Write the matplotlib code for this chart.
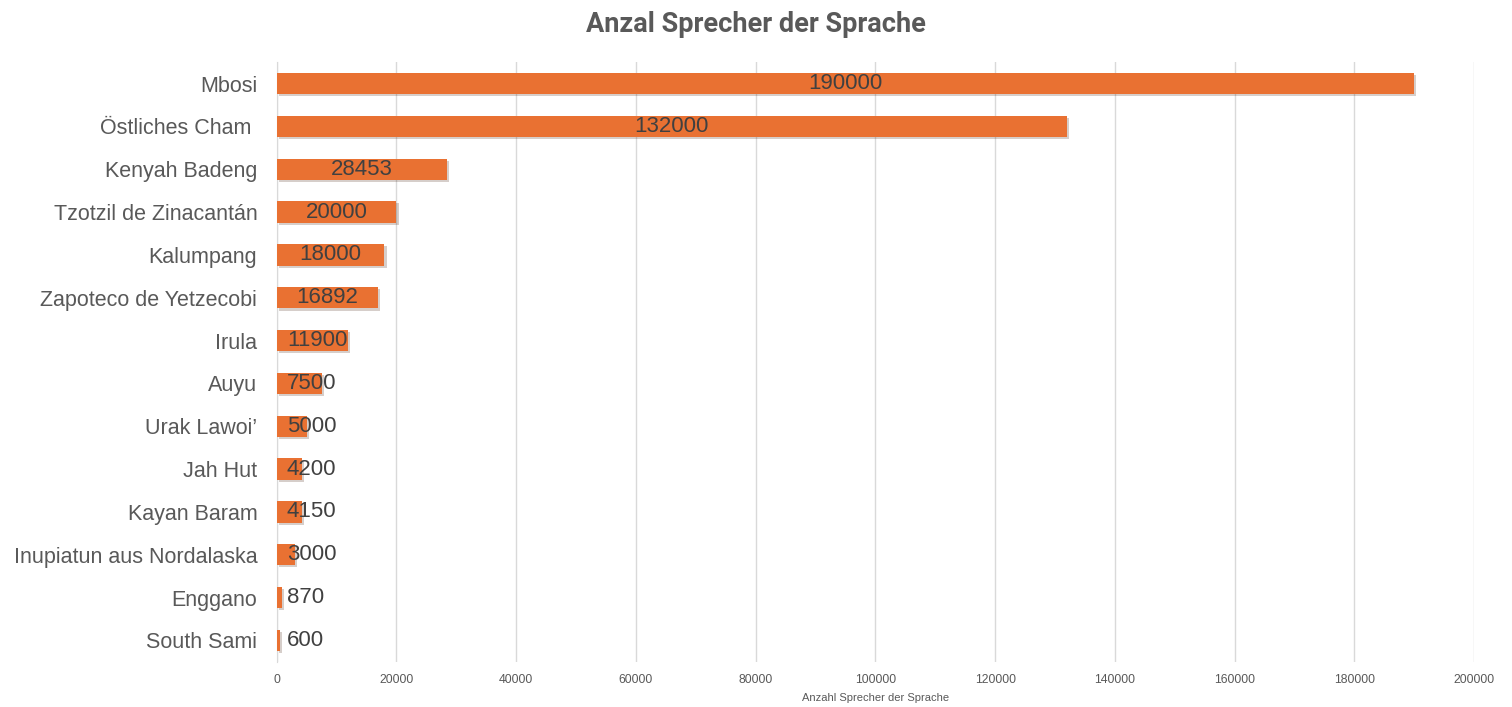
import matplotlib
matplotlib.use("Agg")
import matplotlib.pyplot as plt
import matplotlib.patheffects as pe

languages = [
    "Mbosi", "Östliches Cham ", "Kenyah Badeng", "Tzotzil de Zinacantán",
    "Kalumpang", "Zapoteco de Yetzecobi", "Irula", "Auyu", "Urak Lawoi’",
    "Jah Hut", "Kayan Baram", "Inupiatun aus Nordalaska", "Enggano", "South Sami",
]
speakers = [190000, 132000, 28453, 20000, 18000, 16892, 11900, 7500, 5000,
            4200, 4150, 3000, 870, 600]
x_ticks = [0, 20000, 40000, 60000, 80000, 100000, 120000, 140000, 160000, 180000, 200000]

plt.rcParams["font.family"] = ["Liberation Sans", "DejaVu Sans"]

BAR = "#E97132"
GRID = "#D9D9D9"
TEXT = "#595959"

fig = plt.figure(figsize=(15.12, 7.07), dpi=100)
ax = fig.add_axes([0.183, 0.064, 0.792, 0.848])

pos = list(range(len(languages)))
bars = ax.barh(pos, speakers, height=0.5, color=BAR, zorder=3,
               path_effects=[pe.SimplePatchShadow(offset=(1.5, -1.5), alpha=0.22), pe.Normal()])

ax.set_xlim(0, 200000)
ax.set_ylim(len(languages) - 0.5, -0.5)
ax.set_xticks(x_ticks)
ax.set_xticklabels([str(t) for t in x_ticks])
ax.set_yticks(pos)
ax.set_yticklabels(languages)
ax.tick_params(axis="x", length=0, labelsize=8.8, colors=TEXT, pad=9)
ax.tick_params(axis="y", length=0, labelsize=15.5, colors=TEXT, pad=14)
ax.xaxis.grid(True, color=GRID, linewidth=1)
ax.set_axisbelow(True)
for s in ["top", "right", "bottom"]:
    ax.spines[s].set_visible(False)
ax.spines["left"].set_color(GRID)

ax.set_xlabel("Anzahl Sprecher der Sprache", fontsize=8, color=TEXT, labelpad=5)

# data labels: centred in bar, but never closer than a fixed inset to the axis
fig.canvas.draw()
renderer = fig.canvas.get_renderer()
min_left = ax.transData.transform((1680, 0))[0]
for p, v in zip(pos, speakers):
    t = ax.text(v / 2, p, str(v), ha="center", va="center", fontsize=16,
                color="#404040", zorder=5)
    bb = t.get_window_extent(renderer)
    if bb.x0 < min_left:
        t.set_x(1680)
        t.set_ha("left")

fig.text(0.5, 0.965, "Anzal Sprecher der Sprache", ha="center", va="center",
         fontsize=19.5, fontweight="bold", color=TEXT, family=["Roboto", "DejaVu Sans"])

fig.savefig("out.png", dpi=100)
